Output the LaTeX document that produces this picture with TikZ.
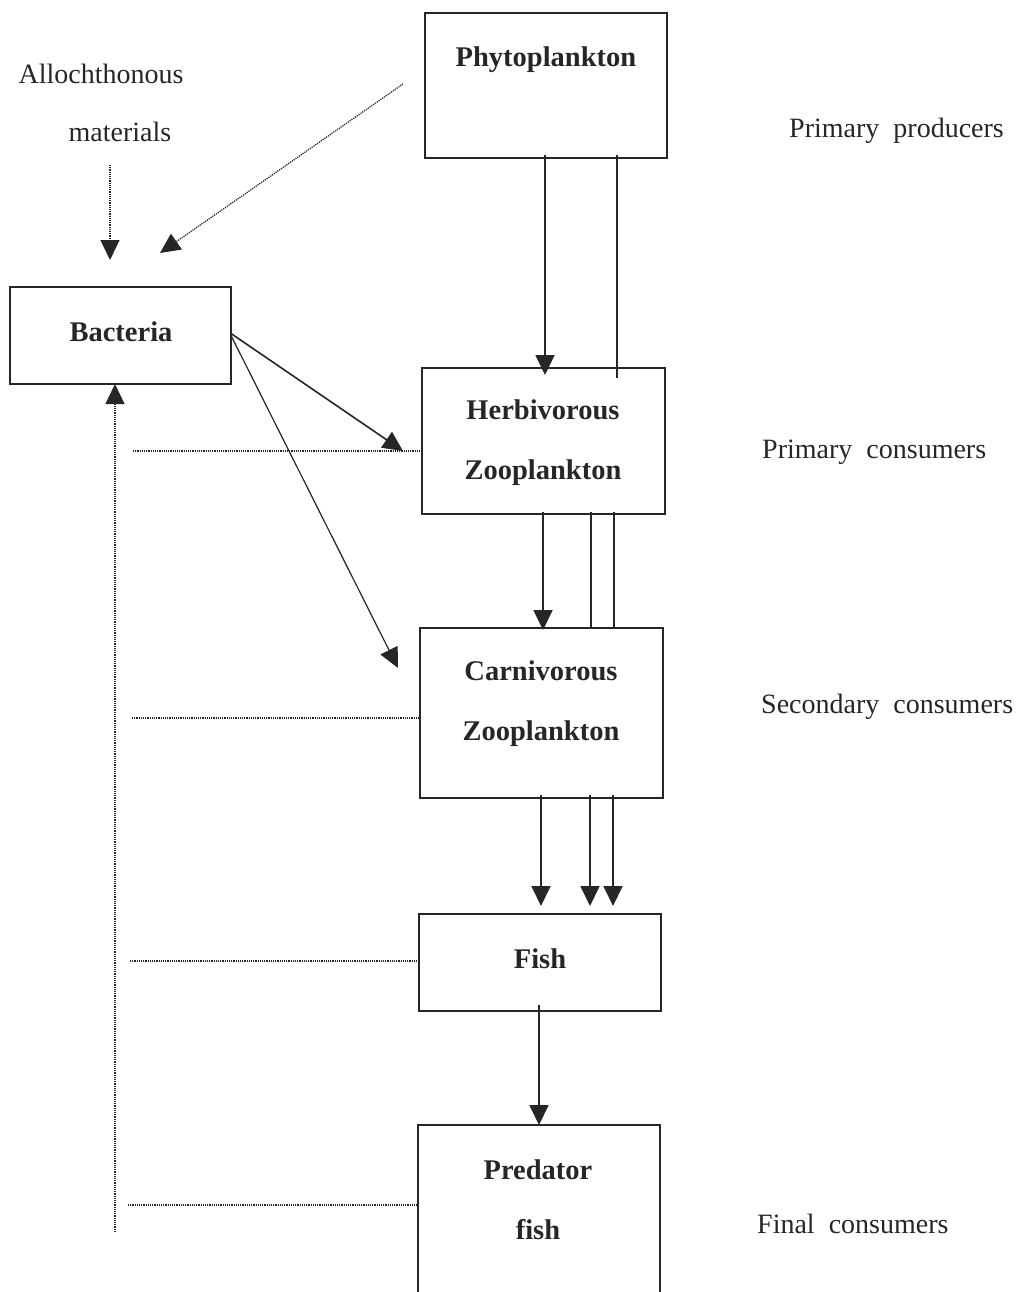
\documentclass[tikz,border=0pt]{standalone}
\usepackage{fontspec}
\setmainfont{Liberation Serif}
\usetikzlibrary{arrows.meta,calc}
\colorlet{ink}{black!85}
\tikzset{
  box/.style={draw=ink, line width=1.8pt, inner sep=0pt, outer sep=0pt, rectangle},
  boxtext/.style={text=ink, font=\fontsize{28.5}{60}\selectfont\bfseries, align=center, inner sep=0pt},
  plain/.style={text=ink, font=\fontsize{28}{34}\selectfont, inner sep=0pt},
  arr/.style={draw=ink, fill=ink, line width=1.8pt, -{Triangle[length=20pt,width=19pt]}},
  ln/.style={draw=ink, line width=1.8pt},
  dotl/.style={draw=ink, line width=1.3pt, dash pattern=on 1.2pt off 1pt},
  dotarr/.style={dotl, -{Triangle[length=20pt,width=19pt,fill=ink]}},
}
\begin{document}
\begin{tikzpicture}[x=1pt,y=-1pt]
\useasboundingbox (0,0) rectangle (1022,1292);
% boxes
\node[box, minimum width=242pt, minimum height=145pt] (phyto) at (546,85.5) {};
\node[box, minimum width=221pt, minimum height=97pt] (bact) at (120.5,335.5) {};
\node[box, minimum width=243pt, minimum height=146pt] (herb) at (543.5,441) {};
\node[box, minimum width=243pt, minimum height=170pt] (carn) at (541.5,713) {};
\node[box, minimum width=242pt, minimum height=97pt] (fish) at (540,962.5) {};
\node[inner sep=0pt, outer sep=0pt, minimum width=242pt, minimum height=167pt] (pred) at (539,1208.5) {};
\draw[ln] (pred.south west) -- (pred.north west) -- (pred.north east) -- (pred.south east);
% box texts
\node[boxtext] (tphyto) at (546,60) {Phytoplankton};
\node[boxtext] (tbact) at (121,332) {Bacteria};
\node[boxtext] (therb) at (543,443) {Herbivorous\\Zooplankton};
\node[boxtext] (tcarn) at (541,704) {Carnivorous\\Zooplankton};
\node[boxtext] (tfish) at (540,959) {Fish};
\node[boxtext] (tpred) at (538,1200) {Predator\\fish};
% left labels
\node[plain] (allo) at (101,74) {Allochthonous};
\node[plain] (mat) at (120,132) {materials};
% right labels
\node[plain, anchor=west] (l1) at (789,131) {Primary\hspace{0.5em}producers};
\node[plain, anchor=west] (l2) at (762,452) {Primary\hspace{0.5em}consumers};
\node[plain, anchor=west] (l3) at (761,707) {Secondary\hspace{0.5em}consumers};
\node[plain, anchor=west] (l4) at (757,1224) {Final\hspace{0.5em}consumers};
% dotted inputs to bacteria
\coordinate (a1s) at (110,165);
\coordinate (a1e) at (110,260);
\draw[dotarr] (a1s) -- (a1e);
\coordinate (a2s) at (403,84);
\coordinate (a2e) at (160,253);
\draw[dotarr] (a2s) -- (a2e);
% phyto -> herb
\draw[arr, shorten >=-10pt] ([xshift=-1pt,yshift=3pt]phyto.south) -- ([xshift=-1pt,yshift=3pt]phyto.south |- herb.north);
\draw[ln] ([xshift=71pt,yshift=3pt]phyto.south) -- ([xshift=71pt,yshift=-10pt]phyto.south |- herb.north);
% bacteria -> herb, carn
\draw[arr, line width=1.6pt] ([yshift=2pt]bact.east) -- ([xshift=-19pt,yshift=-10pt]herb.west);
\draw[arr, line width=1.2pt] ([yshift=0pt]bact.east) -- ([xshift=-22pt,yshift=45pt]carn.west);
% herb -> carn
\draw[arr, shorten >=-2pt] ([xshift=-0.5pt,yshift=2pt]herb.south) -- ([xshift=-0.5pt]herb.south |- carn.north);
\draw[ln] ([xshift=47.5pt,yshift=2pt]herb.south) -- ([xshift=47.5pt]herb.south |- carn.north);
\draw[ln] ([xshift=70.5pt,yshift=2pt]herb.south) -- ([xshift=70.5pt]herb.south |- carn.north);
% carn -> fish
\draw[arr, shorten >=8pt] ([xshift=-0.5pt,yshift=3pt]carn.south) -- ([xshift=-0.5pt]carn.south |- fish.north);
\draw[arr, shorten >=8pt] ([xshift=48.5pt,yshift=3pt]carn.south) -- ([xshift=48.5pt]carn.south |- fish.north);
\draw[arr, shorten >=8pt] ([xshift=71.5pt,yshift=3pt]carn.south) -- ([xshift=71.5pt]carn.south |- fish.north);
% fish -> pred
\draw[arr] ([xshift=-1pt,yshift=6pt]fish.south) -- ([xshift=-1pt]fish.south |- pred.north);
% feedback to bacteria
\coordinate (fb) at (115,1232);
\draw[dotarr] (fb) -- (fb |- bact.south);
% horizontal dotted lines
\coordinate (h1) at (133,451);
\coordinate (h2) at (132,718);
\coordinate (h3) at (130,961);
\coordinate (h4) at (128,1205);
\draw[dotl] (h1) -- (h1 -| herb.west);
\draw[dotl] (h2) -- (h2 -| carn.west);
\draw[dotl] (h3) -- (h3 -| fish.west);
\draw[dotl] (h4) -- (h4 -| pred.west);
\end{tikzpicture}
\end{document}
